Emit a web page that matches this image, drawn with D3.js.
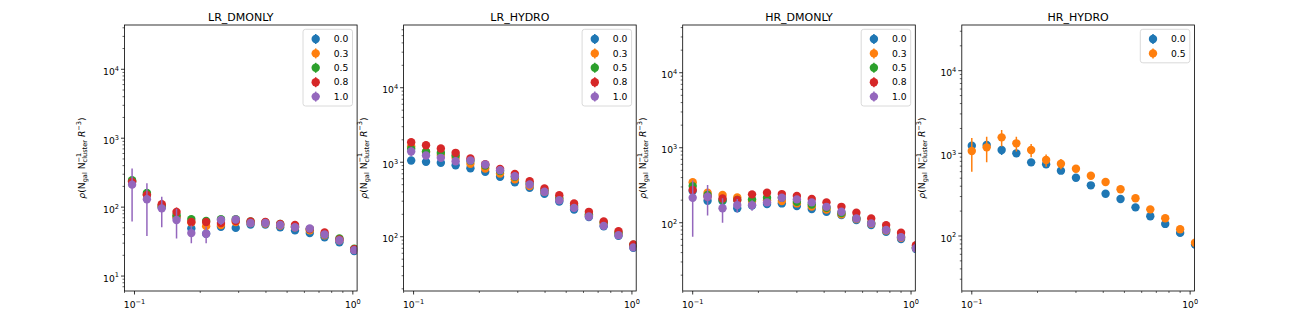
<!DOCTYPE html>
<meta charset="utf-8">
<script src="https://d3js.org/d3.v7.min.js"></script>
<style>
  body { margin: 0; background: #fff; }
  text { font-family: "DejaVu Sans", sans-serif; fill: #000; }
</style>
<div id="chart"></div>
<script>
// radial bins (R) for the low and high resolution runs
const xLR = [0.0975, 0.114, 0.1333, 0.1558, 0.1821, 0.2129, 0.2489, 0.2909, 0.3401, 0.3976, 0.4648, 0.5433, 0.6351, 0.7425, 0.868, 1.0147];
const xHR = [0.1, 0.117, 0.137, 0.16, 0.187, 0.219, 0.256, 0.3, 0.351, 0.41, 0.48, 0.562, 0.657, 0.769, 0.9, 1.053];

const titles = ["LR_DMONLY", "LR_HYDRO", "HR_DMONLY", "HR_HYDRO"];
const labels5 = ["0.0", "0.3", "0.5", "0.8", "1.0"];
const labels2 = ["0.0", "0.5"];

// LR_DMONLY
const lrDmVals = [
  [235, 150, 100, 72, 49, 41, 52, 50, 56, 56, 51, 46, 42, 36.5, 31, 23],
  [238, 152, 103, 72, 60, 53, 55, 61, 59, 58, 54, 51, 46, 39, 33, 24],
  [245, 160, 105, 77, 67, 63, 67, 67, 62, 60, 57, 53, 48, 40, 35, 25],
  [232, 150, 110, 85, 61, 61, 59, 63, 62, 61, 57, 55, 48, 43, 34, 24.5],
  [212, 130, 96, 65, 42, 41, 65, 66, 59, 59, 55, 51, 49, 40, 33, 23.8]
];
const lrDmErr = [
  [30, 20, 10, 6, 4, 3, 3, 3, 3, 3, 2, 2, 2, 2, 1.5, 1],
  [30, 20, 12, 8, 5, 4, 4, 3, 3, 3, 2, 2, 2, 2, 1.5, 1],
  [30, 20, 12, 8, 5, 4, 4, 3, 3, 3, 2, 2, 2, 2, 1.5, 1],
  [40, 25, 18, 14, 6, 5, 4, 3, 3, 3, 2, 2, 2, 2, 1.5, 1],
  [150, 92, 45, 30, 12, 11, 10, 5, 4, 3, 3, 2, 2, 2, 1.5, 1]
];

// LR_HYDRO
const lrHyVals = [
  [1055, 1012, 982, 912, 830, 743, 637, 539, 453, 377, 297, 232, 184, 138, 103, 71],
  [1640, 1380, 1250, 1146, 951, 823, 705, 590, 480, 400, 320, 250, 195, 150, 110, 76],
  [1513, 1379, 1337, 1231, 1050, 900, 760, 640, 520, 420, 330, 260, 200, 155, 113, 78],
  [1855, 1691, 1528, 1337, 1122, 940, 815, 698, 556, 444, 361, 279, 216, 160, 119, 79],
  [1393, 1231, 1146, 1031, 1055, 931, 781, 649, 502, 401, 309, 244, 187, 140, 105, 72]
];
const lrHyErr = [
  [60, 50, 45, 40, 35, 30, 25, 20, 17, 14, 10, 8, 6, 5, 4, 3],
  [90, 70, 60, 50, 40, 33, 28, 23, 18, 15, 11, 9, 7, 5, 4, 3],
  [90, 70, 60, 50, 40, 33, 28, 23, 18, 15, 11, 9, 7, 5, 4, 3],
  [100, 80, 70, 60, 45, 38, 32, 26, 20, 16, 12, 10, 8, 6, 4, 3],
  [200, 120, 90, 70, 50, 40, 32, 26, 20, 15, 11, 9, 7, 5, 4, 3]
];

// HR_DMONLY
const hrDmVals = [
  [265, 196, 195, 156, 170, 178, 181, 167, 152, 140, 127, 109, 93, 76, 60.6, 44.6],
  [346, 251, 234, 218, 195, 200, 195, 181, 165, 150, 130, 112, 97, 79, 63, 46],
  [308, 234, 201, 201, 205, 215, 215, 190, 175, 158, 135, 115, 99, 82, 65, 47],
  [273, 222, 211, 201, 239, 251, 241, 227, 207, 187, 163, 136, 114, 93, 73.5, 50],
  [215, 222, 156, 172, 172, 187, 215, 205, 187, 163, 140, 114, 98, 80, 64, 45.6]
];
const hrDmErr = [
  [20, 15, 12, 10, 8, 7, 6, 5, 5, 4, 4, 3, 3, 2, 2, 1.5],
  [25, 18, 14, 12, 9, 8, 7, 6, 5, 4, 4, 3, 3, 2, 2, 1.5],
  [25, 18, 14, 12, 9, 8, 7, 6, 5, 4, 4, 3, 3, 2, 2, 1.5],
  [25, 18, 14, 12, 10, 9, 8, 7, 6, 5, 4, 4, 3, 3, 2, 1.5],
  [150, 97, 56, 35, 27, 15, 10, 8, 6, 5, 4, 4, 3, 2, 2, 1.5]
];

// HR_HYDRO
const hrHyVals = [
  [1236, 1259, 1097, 1000, 778, 736, 617, 507, 410, 325, 280, 222, 173, 140, 109, 79],
  [1067, 1182, 1561, 1321, 1097, 829, 748, 652, 536, 450, 367, 286, 210, 164, 120.5, 83]
];
const hrHyErr = [
  [100, 110, 140, 80, 60, 45, 30, 20, 15, 10, 8, 6, 5, 4, 3, 2],
  [470, 400, 350, 270, 200, 140, 105, 60, 40, 30, 20, 15, 10, 8, 6, 4]
];

const yDomains = [[6.07, 43900], [18.7, 69500], [12.3, 43300], [21.6, 35700]];
const colors = ["#1f77b4", "#ff7f0e", "#2ca02c", "#d62728", "#9467bd"];

const panels = [
  {title: titles[0], x: xLR, vals: lrDmVals, err: lrDmErr, labels: labels5, colors: colors},
  {title: titles[1], x: xLR, vals: lrHyVals, err: lrHyErr, labels: labels5, colors: colors},
  {title: titles[2], x: xHR, vals: hrDmVals, err: hrDmErr, labels: labels5, colors: colors},
  {title: titles[3], x: xHR, vals: hrHyVals, err: hrHyErr, labels: labels2, colors: colors.slice(0, 2)}
];

const W = 1316, H = 315;
const axTop = 25, axBottom = 291, pw = 232.6, ph = axBottom - axTop;
const lefts = [124.5, 403.6, 682.7, 961.8];

const svg = d3.select("#chart").append("svg")
  .attr("width", W).attr("height", H);

const tickFs = 9.2, supFs = 6.6;

function powLabel(sel, exp) {
  sel.append("tspan").text("10");
  sel.append("tspan").attr("dy", -4.2).attr("font-size", supFs).text(exp);
}

panels.forEach(function(p, k) {
  const g = svg.append("g").attr("transform", `translate(${lefts[k]}, ${axTop})`);

  const x = d3.scaleLog().domain([0.09, 1.046]).range([0, pw]);
  const y = d3.scaleLog().domain(yDomains[k]).range([ph, 0]);

  // clip
  g.append("clipPath").attr("id", "clip" + k)
    .append("rect").attr("width", pw).attr("height", ph);

  // x ticks
  const xMaj = [0.1, 1];
  const xMin = [0.09, 0.2, 0.3, 0.4, 0.5, 0.6, 0.7, 0.8, 0.9].filter(v => v >= 0.0899 && v <= 1.046);
  g.selectAll(".xmin").data(xMin).join("line")
    .attr("x1", d => x(d)).attr("x2", d => x(d))
    .attr("y1", ph).attr("y2", ph + 2)
    .attr("stroke", "#000").attr("stroke-width", 0.6);
  g.selectAll(".xmaj").data(xMaj).join("line")
    .attr("x1", d => x(d)).attr("x2", d => x(d))
    .attr("y1", ph).attr("y2", ph + 3.5)
    .attr("stroke", "#000").attr("stroke-width", 0.8);
  xMaj.forEach(function(v) {
    const t = g.append("text")
      .attr("x", x(v)).attr("y", ph + 17)
      .attr("text-anchor", "middle").attr("font-size", tickFs);
    powLabel(t, v === 1 ? "0" : "\u22121");
  });

  // y ticks
  const [y0, y1] = yDomains[k];
  const yMaj = [], yMin = [];
  for (let e = Math.floor(Math.log10(y0)); e <= Math.ceil(Math.log10(y1)); e++) {
    const b = Math.pow(10, e);
    if (b >= y0 && b <= y1) yMaj.push(e);
    for (let m = 2; m <= 9; m++) {
      if (m * b >= y0 && m * b <= y1) yMin.push(m * b);
    }
  }
  g.selectAll(".ymin").data(yMin).join("line")
    .attr("x1", -2).attr("x2", 0)
    .attr("y1", d => y(d)).attr("y2", d => y(d))
    .attr("stroke", "#000").attr("stroke-width", 0.6);
  g.selectAll(".ymaj").data(yMaj).join("line")
    .attr("x1", -3.5).attr("x2", 0)
    .attr("y1", d => y(Math.pow(10, d))).attr("y2", d => y(Math.pow(10, d)))
    .attr("stroke", "#000").attr("stroke-width", 0.8);
  yMaj.forEach(function(e) {
    const t = g.append("text")
      .attr("x", -5.5).attr("y", y(Math.pow(10, e)) + 5.6)
      .attr("text-anchor", "end").attr("font-size", tickFs);
    powLabel(t, String(e));
  });

  // y label
  const yl = g.append("text")
    .attr("transform", `translate(${k === 0 ? -39.5 : -37}, ${ph / 2}) rotate(-90)`)
    .attr("text-anchor", "middle").attr("font-size", tickFs);
  yl.append("tspan").attr("font-style", "italic").text("\u03c1");
  yl.append("tspan").text("(N");
  yl.append("tspan").attr("dy", 2.2).attr("font-size", supFs).text("gal");
  yl.append("tspan").attr("dy", -2.2).text(" N");
  const sub = yl.append("tspan").attr("dy", 2.2).attr("font-size", supFs).text("cluster");
  const subW = sub.node().getComputedTextLength();
  const sup = yl.append("tspan").attr("dx", -subW).attr("dy", -6.4).attr("font-size", supFs).text("\u22121");
  const gap = subW - sup.node().getComputedTextLength();
  yl.append("tspan").attr("dx", gap).attr("dy", 4.2).text(" ");
  yl.append("tspan").attr("font-style", "italic").text("R");
  yl.append("tspan").attr("dy", -4.2).attr("font-size", supFs).text("\u22123");
  yl.append("tspan").attr("dy", 4.2).text(")");

  // data
  const plot = g.append("g").attr("clip-path", `url(#clip${k})`);
  p.vals.forEach(function(vals, s) {
    const pts = vals.map((v, i) => ({x: p.x[i], y: v, e: p.err[s][i]}));
    const sg = plot.append("g");
    sg.selectAll("line").data(pts).join("line")
      .attr("x1", d => x(d.x)).attr("x2", d => x(d.x))
      .attr("y1", d => y(Math.max(d.y - d.e, y0 * 0.5)))
      .attr("y2", d => y(d.y + d.e))
      .attr("stroke", p.colors[s]).attr("stroke-width", 1.5);
    sg.selectAll("circle").data(pts).join("circle")
      .attr("cx", d => x(d.x)).attr("cy", d => y(d.y))
      .attr("r", 4.2).attr("fill", p.colors[s]);
  });

  // frame
  g.append("rect").attr("width", pw).attr("height", ph)
    .attr("fill", "none").attr("stroke", "#000").attr("stroke-width", 0.8);

  // title
  g.append("text").attr("x", pw / 2).attr("y", -4.5)
    .attr("text-anchor", "middle").attr("font-size", 11).text(p.title);

  // legend
  const n = p.labels.length;
  const lw = 49.5, lh = 14.4 * n + 4.7;
  const lg = g.append("g").attr("transform", `translate(${pw - 4.6 - lw}, 4.3)`);
  lg.append("rect").attr("width", lw).attr("height", lh).attr("rx", 2.5)
    .attr("fill", "#fff").attr("fill-opacity", 0.8)
    .attr("stroke", "#d0d0d0").attr("stroke-width", 0.8);
  p.labels.forEach(function(lab, s) {
    const cy = 9.7 + s * 14.4;
    lg.append("line").attr("x1", 12.7).attr("x2", 12.7)
      .attr("y1", cy - 5).attr("y2", cy + 5)
      .attr("stroke", p.colors[s]).attr("stroke-width", 1.5);
    lg.append("circle").attr("cx", 12.7).attr("cy", cy).attr("r", 4.2)
      .attr("fill", p.colors[s]);
    lg.append("text").attr("x", 30.7).attr("y", cy + 3.3)
      .attr("font-size", tickFs).text(lab);
  });
});
</script>
